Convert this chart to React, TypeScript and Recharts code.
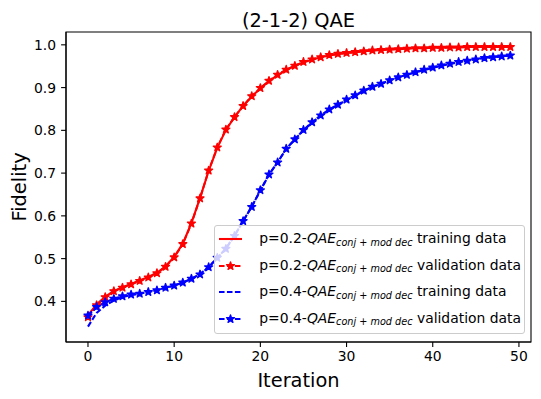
import { LineChart, Line, XAxis, YAxis, Legend, ReferenceArea } from 'recharts';

// x categories (training iterations)
const iterations = [
  0, 1, 2, 3, 4, 5, 6, 7, 8, 9, 10, 11, 12, 13, 14, 15, 16, 17, 18, 19, 20, 21, 22, 23, 24,
  25, 26, 27, 28, 29, 30, 31, 32, 33, 34, 35, 36, 37, 38, 39, 40, 41, 42, 43, 44, 45, 46, 47, 48, 49,
];

// p=0.2 training fidelity (solid red)
const p02Train = [
  0.368, 0.393, 0.411, 0.424, 0.433, 0.441, 0.449, 0.457, 0.467, 0.482, 0.504, 0.535, 0.583, 0.642, 0.705,
  0.759, 0.801, 0.831, 0.857, 0.879, 0.898, 0.915, 0.929, 0.941, 0.951, 0.959, 0.965, 0.971, 0.975, 0.978,
  0.981, 0.983, 0.985, 0.987, 0.988, 0.989, 0.990, 0.991, 0.992, 0.992, 0.993, 0.993, 0.994, 0.994, 0.995,
  0.995, 0.995, 0.995, 0.995, 0.995,
];

// p=0.2 validation fidelity (red dashed, stars)
const p02Val = [
  0.363, 0.391, 0.410, 0.424, 0.432, 0.440, 0.448, 0.456, 0.466, 0.481, 0.503, 0.534, 0.582, 0.641, 0.706,
  0.760, 0.802, 0.831, 0.857, 0.880, 0.899, 0.916, 0.930, 0.942, 0.951, 0.960, 0.966, 0.971, 0.976, 0.979,
  0.981, 0.983, 0.985, 0.987, 0.988, 0.989, 0.990, 0.991, 0.992, 0.992, 0.993, 0.993, 0.994, 0.994, 0.995,
  0.995, 0.995, 0.995, 0.995, 0.995,
];

// p=0.4 training fidelity (blue dashed)
const p04Train = [
  0.341, 0.373, 0.390, 0.402, 0.410, 0.415, 0.418, 0.422, 0.426, 0.431, 0.437, 0.444, 0.453, 0.464, 0.480,
  0.501, 0.524, 0.554, 0.588, 0.622, 0.659, 0.696, 0.726, 0.756, 0.779, 0.800, 0.818, 0.834, 0.848, 0.860,
  0.871, 0.882, 0.892, 0.901, 0.909, 0.917, 0.923, 0.930, 0.936, 0.941, 0.946, 0.951, 0.955, 0.959, 0.963,
  0.966, 0.969, 0.971, 0.973, 0.975,
];

// p=0.4 validation fidelity (blue dashed, stars)
const p04Val = [
  0.367, 0.387, 0.398, 0.406, 0.412, 0.416, 0.418, 0.422, 0.426, 0.432, 0.437, 0.444, 0.453, 0.463, 0.480,
  0.502, 0.523, 0.553, 0.588, 0.621, 0.660, 0.697, 0.725, 0.757, 0.779, 0.801, 0.819, 0.835, 0.849, 0.860,
  0.872, 0.882, 0.893, 0.902, 0.909, 0.917, 0.924, 0.930, 0.936, 0.942, 0.947, 0.952, 0.956, 0.960, 0.963,
  0.966, 0.969, 0.971, 0.973, 0.975,
];

const xTicks = [0, 10, 20, 30, 40, 50];
const yTicks = [0.4, 0.5, 0.6, 0.7, 0.8, 0.9, 1.0];
const xDomain = [-2.55, 51.4];
const yDomain = [0.305, 1.03];

const data = iterations.map((it, i) => ({
  it,
  p02Train: p02Train[i],
  p02Val: p02Val[i],
  p04Train: p04Train[i],
  p04Val: p04Val[i],
}));

const FONT = '"DejaVu Sans", sans-serif';
const RED = '#ff0000';
const BLUE = '#0000ff';
const LW = 2.08;
const DASH = '5.55 2.4';

function starPoints(cx: number, cy: number, r: number) {
  const pts: string[] = [];
  for (let k = 0; k < 10; k++) {
    const rad = k % 2 === 0 ? r : r * 0.381966;
    const a = -Math.PI / 2 + (k * Math.PI) / 5;
    pts.push(`${(cx + rad * Math.cos(a)).toFixed(2)},${(cy + rad * Math.sin(a)).toFixed(2)}`);
  }
  return pts.join(' ');
}

const starDot = (color: string) => (props: any) => {
  const { cx, cy, index } = props;
  if (cx == null || cy == null) return <g key={`n-${index}`} />;
  return (
    <polygon
      key={`s-${index}`}
      points={starPoints(cx, cy, 4.15)}
      fill={color}
      stroke={color}
      strokeWidth={1.39}
      strokeLinejoin="round"
    />
  );
};

const entries = [
  { color: RED, dash: undefined, star: false, p: '0.2', kind: 'training data' },
  { color: RED, dash: DASH, star: true, p: '0.2', kind: 'validation data' },
  { color: BLUE, dash: DASH, star: false, p: '0.4', kind: 'training data' },
  { color: BLUE, dash: DASH, star: true, p: '0.4', kind: 'validation data' },
];

const LegendBox = () => (
  <div
    style={{
      boxSizing: 'border-box', width: '100%', height: '100%',
      border: '1px solid #cccccc', borderRadius: 3, background: 'rgba(255,255,255,0.8)',
      fontFamily: FONT, fontSize: 13.9, color: '#000',
    }}
  >
    {entries.map((e) => (
      <div key={e.p + e.kind} style={{ display: 'flex', alignItems: 'center', height: 26.5 }}>
        <svg width={25} height={26} style={{ marginLeft: 3, flex: 'none' }}>
          <line x1={1} y1={13} x2={24} y2={13} stroke={e.color} strokeWidth={LW} strokeDasharray={e.dash} />
          {e.star && (
            <polygon points={starPoints(12.5, 13, 4.15)} fill={e.color} stroke={e.color}
              strokeWidth={1.39} strokeLinejoin="round" />
          )}
        </svg>
        <span style={{ marginLeft: 16.3, lineHeight: 1, whiteSpace: 'nowrap' }}>
          p={e.p}-<i>QAE</i>
          <span style={{ fontSize: 9.7, fontStyle: 'italic', position: 'relative', top: 2.5 }}>
            conj + mod dec
          </span>{' '}
          {e.kind}
        </span>
      </div>
    ))}
  </div>
);

export default function App() {
  const tickStyle = { fill: '#000', fontSize: 13.9, fontFamily: FONT };
  const lineStyle = { stroke: '#000', strokeWidth: 1.1 };
  return (
    <div style={{ position: 'absolute', left: 0, top: 0, width: 541, height: 399, background: '#fff' }}>
      <LineChart width={541} height={399} data={data} margin={{ top: 32, right: 10, left: 0, bottom: 0 }}>
        <XAxis
          dataKey="it" type="number" domain={xDomain} ticks={xTicks} allowDataOverflow
          tick={tickStyle} tickLine={lineStyle} axisLine={lineStyle} tickSize={4.9} tickMargin={4}
          height={57}
          label={(p: any) => (
            <text x={p.viewBox.x + p.viewBox.width / 2} y={p.viewBox.y + 44.7} textAnchor="middle"
              fontFamily={FONT} fontSize={19.4} fill="#000">Iteration</text>
          )}
        />
        <YAxis
          type="number" domain={yDomain} ticks={yTicks} allowDataOverflow width={66}
          tickFormatter={(v: number) => v.toFixed(1)}
          tick={tickStyle} tickLine={lineStyle} axisLine={lineStyle} tickSize={4.9} tickMargin={5}
          label={(p: any) => {
            const x = p.viewBox.x + 26;
            const y = p.viewBox.y + p.viewBox.height / 2;
            return (
              <text x={x} y={y} transform={`rotate(-90, ${x}, ${y})`} textAnchor="middle"
                fontFamily={FONT} fontSize={19.4} fill="#000">Fidelity</text>
            );
          }}
        />
        {/* axes frame (all four spines) + title */}
        <ReferenceArea
          x1={xDomain[0]} x2={xDomain[1]} y1={yDomain[0]} y2={yDomain[1]}
          ifOverflow="visible" fill="none" fillOpacity={0} stroke="#000" strokeWidth={1.1}
          label={(p: any) => (
            <text x={p.viewBox.x + p.viewBox.width / 2} y={p.viewBox.y - 5.4} textAnchor="middle"
              fontFamily={FONT} fontSize={19.4} fill="#000">(2-1-2) QAE</text>
          )}
        />
        <Line type="linear" dataKey="p02Train" stroke={RED} strokeWidth={LW} dot={false}
          activeDot={false} isAnimationActive={false} />
        <Line type="linear" dataKey="p02Val" stroke={RED} strokeWidth={LW} strokeDasharray={DASH}
          dot={starDot(RED)} activeDot={false} isAnimationActive={false} />
        <Line type="linear" dataKey="p04Train" stroke={BLUE} strokeWidth={LW} strokeDasharray={DASH}
          dot={false} activeDot={false} isAnimationActive={false} />
        <Line type="linear" dataKey="p04Val" stroke={BLUE} strokeWidth={LW} strokeDasharray={DASH}
          dot={starDot(BLUE)} activeDot={false} isAnimationActive={false} />
        <Legend
          layout="vertical" align="center" verticalAlign="middle"
          wrapperStyle={{ left: 214, top: 225, width: 311, height: 109 }}
          content={() => <LegendBox />}
        />
      </LineChart>
    </div>
  );
}
